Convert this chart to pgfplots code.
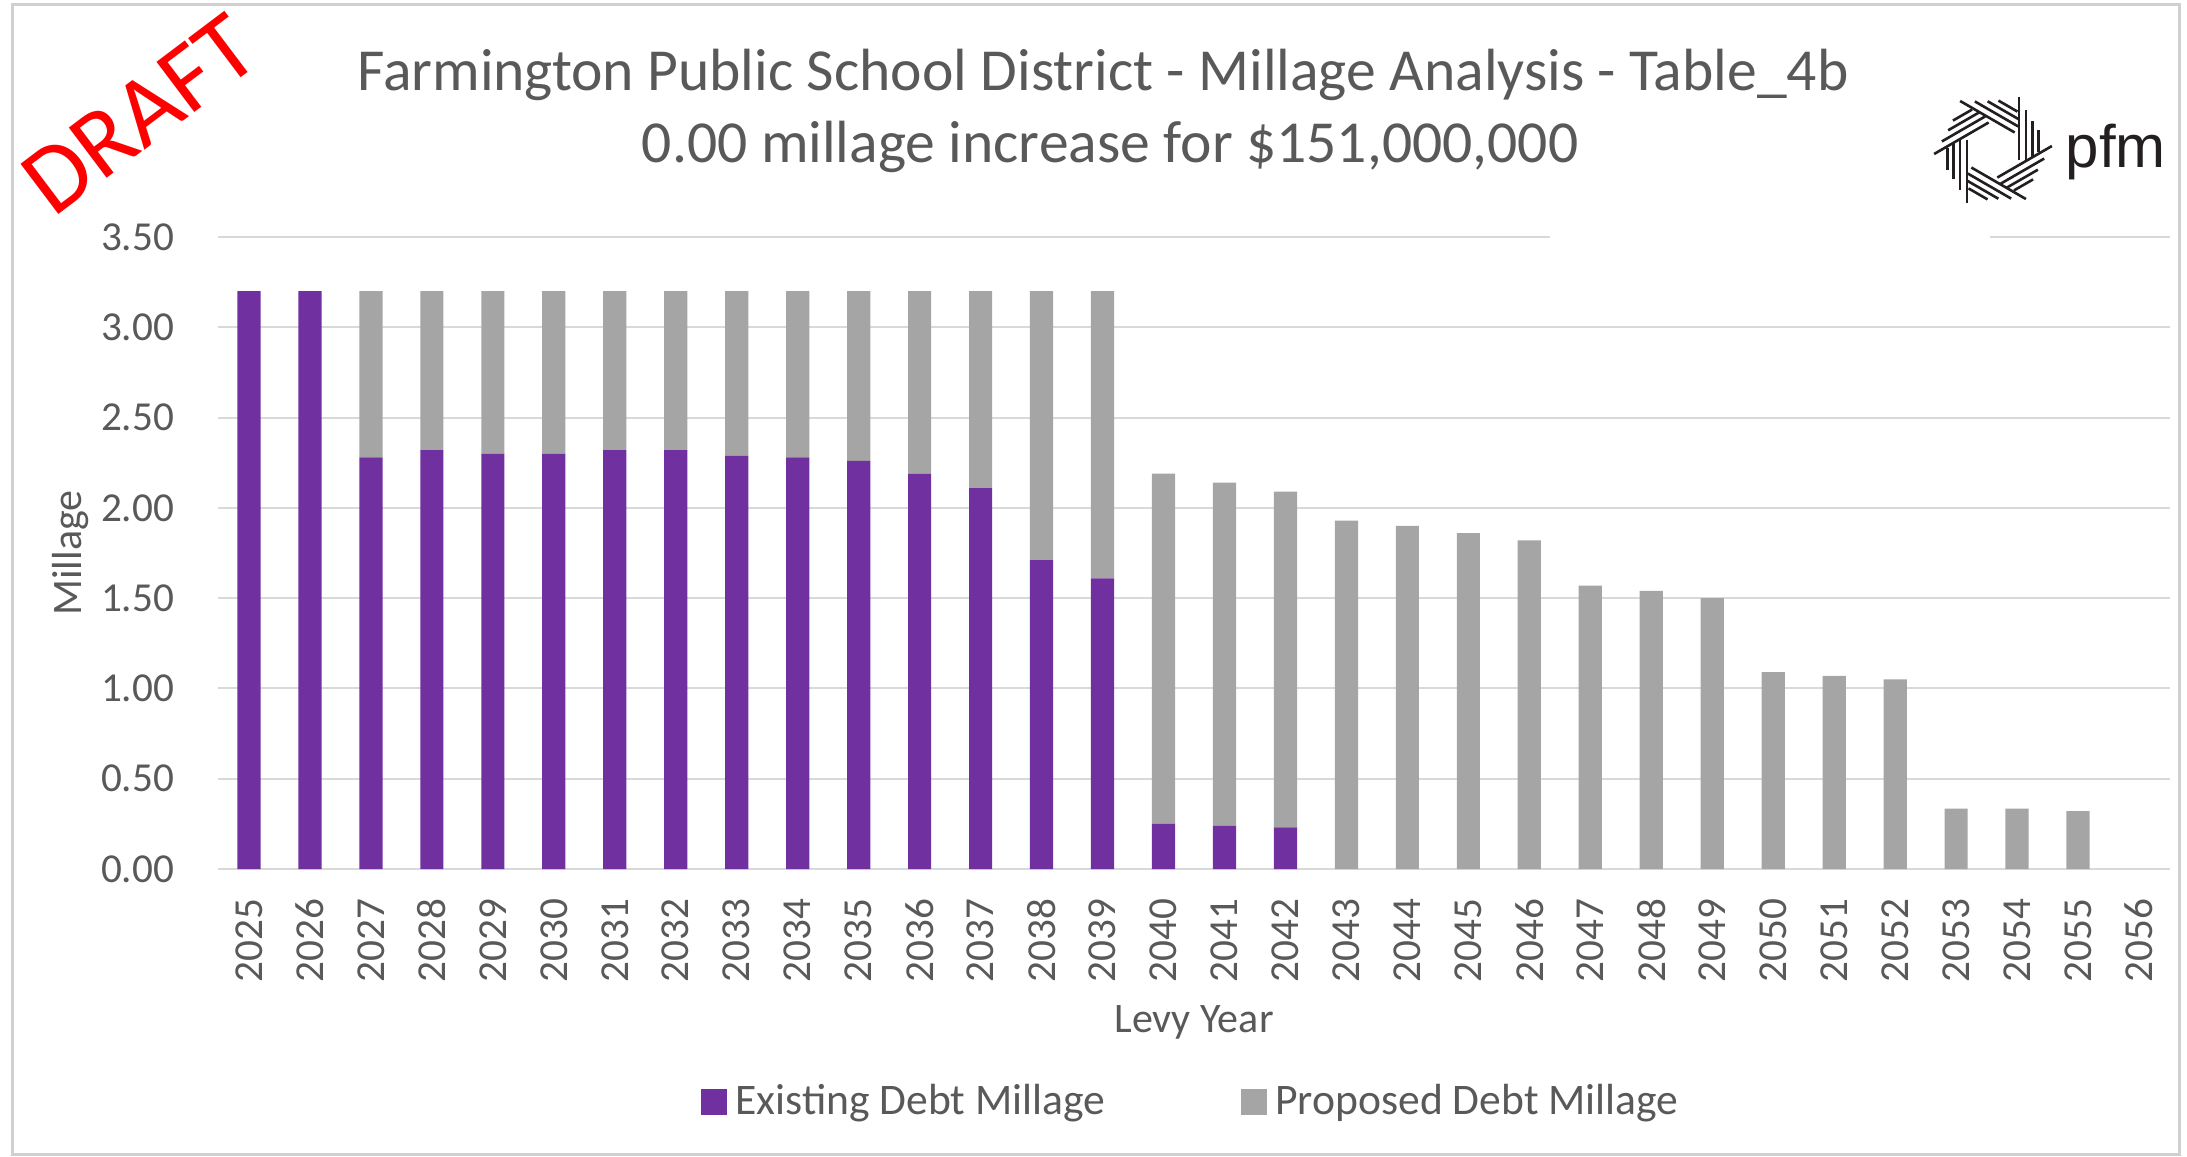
\documentclass[border=0pt]{standalone}
\usepackage{fontspec}
\setmainfont{Carlito}
\newfontfamily\logofont{Liberation Sans}
\usepackage{pgfplots}
\pgfplotsset{compat=1.18}
\usepackage{pgfplotstable}
\definecolor{exist}{HTML}{7030A0}
\definecolor{prop}{HTML}{A5A5A5}
\definecolor{txt}{HTML}{595959}
\definecolor{gridc}{HTML}{D9D9D9}
\definecolor{framec}{HTML}{D0D0D0}
\definecolor{logoc}{HTML}{231F20}

\pgfplotstableread{
i ex pr
0 3.20 0
1 3.20 0
2 2.28 0.92
3 2.32 0.88
4 2.30 0.90
5 2.30 0.90
6 2.32 0.88
7 2.32 0.88
8 2.29 0.91
9 2.28 0.92
10 2.26 0.94
11 2.19 1.01
12 2.11 1.09
13 1.71 1.49
14 1.61 1.59
15 0.25 1.94
16 0.24 1.90
17 0.23 1.86
18 0 1.93
19 0 1.90
20 0 1.86
21 0 1.82
22 0 1.57
23 0 1.54
24 0 1.50
25 0 1.09
26 0 1.07
27 0 1.05
28 0 0.335
29 0 0.335
30 0 0.32
31 0 0
}\data

\begin{document}
\begin{tikzpicture}
\path[use as bounding box] (0,0) rectangle (546.75pt,-289.25pt);
\draw[framec, line width=0.75pt] (3pt,-1pt) rectangle (544.75pt,-288.5pt);
\begin{axis}[
  at={(54.625pt,-217.25pt)}, anchor=south west,
  scale only axis, width=487.75pt, height=158pt,
  ybar stacked, bar width=5.8pt,
  xmin=-0.5, xmax=31.5, ymin=0, ymax=3.5,
  xtick={0,...,31},
  xticklabels={2025,2026,2027,2028,2029,2030,2031,2032,2033,2034,2035,2036,2037,2038,2039,2040,2041,2042,2043,2044,2045,2046,2047,2048,2049,2050,2051,2052,2053,2054,2055,2056},
  ytick={0,0.5,1,1.5,2,2.5,3,3.5},
  ymajorgrids, grid style={gridc, line width=0.5pt},
  axis line style={draw=none}, major tick length=0pt,
  tick label style={font=\fontsize{10.3}{12}\selectfont, text=txt},
  /pgf/number format/assume math mode=true,
  yticklabel style={anchor=east, inner sep=0pt, /pgf/number format/fixed, /pgf/number format/fixed zerofill, /pgf/number format/precision=2},
  yticklabel shift=10.9pt,
  xticklabel style={rotate=90, anchor=east, inner sep=0pt},
  xticklabel shift=7.25pt,
  ylabel={Millage},
  ylabel style={at={(axis description cs:-0.0761,0.5)}, anchor=center, font=\fontsize{10.5}{12}\selectfont, text=txt},
  xlabel={Levy Year},
  xlabel style={at={(axis description cs:0.5,-0.242)}, anchor=center, font=\fontsize{10.5}{12}\selectfont, text=txt},
  legend style={at={(axis description cs:0.5,-0.369)}, anchor=center, draw=none, fill=none, legend columns=2, font=\fontsize{10.9}{13}\selectfont, text=txt, /tikz/every even column/.append style={column sep=32pt}},
  legend cell align=left,
  legend image code/.code={\fill[#1] (0pt,-3.25pt) rectangle (6.5pt,3.25pt);},
]
\addplot[fill=exist, draw=none] table[x=i,y=ex]{\data};
\addlegendentry{Existing Debt Millage}
\addplot[fill=prop, draw=none] table[x=i,y=pr]{\data};
\addlegendentry{Proposed Debt Millage}
\end{axis}
\fill[white] (387.5pt,-56pt) rectangle (497.5pt,-62.5pt);
\node[anchor=base, text=txt, font=\fontsize{14.9}{18}\selectfont, inner sep=0pt] at (275.75pt,-22.5pt) {Farmington Public School District - Millage Analysis - Table\_4b};
\node[anchor=base, text=txt, font=\fontsize{14.9}{18}\selectfont, inner sep=0pt] at (277.5pt,-40.5pt) {0.00 millage increase for \$151,000,000};
\node[rotate=37, text=red, font=\fontsize{24.5}{28}\selectfont, inner sep=0pt] at (34.9pt,-28.6pt) {DRAFT};
\begin{scope}[shift={(498.25pt,-37.5pt)}, x=0.25pt, y=0.25pt]
  \foreach \k in {0,...,5}{
    \foreach \d/\a/\b in {26/-10/53, 33/-10/40, 39.5/-7/29, 45.5/-2/20}{
      \draw[line width=0.65pt, logoc, rotate=\k*60] (\d,\a) -- (\d,\b);
    }
  }
\end{scope}
\node[anchor=base west, inner sep=0pt, text=logoc, font=\logofont\fontsize{15}{17}\selectfont] at (516.25pt,-41.75pt) {pfm};
\end{tikzpicture}
\end{document}
